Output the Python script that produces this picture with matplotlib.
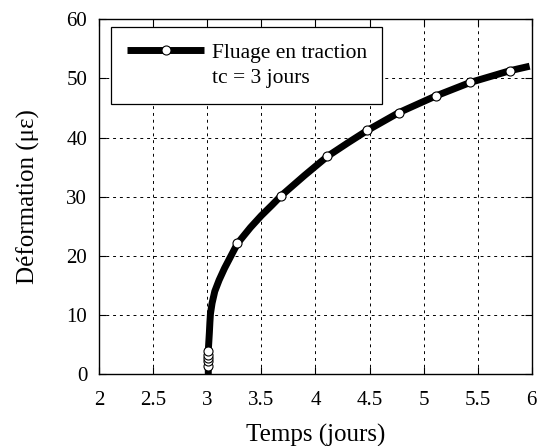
import matplotlib
matplotlib.use("Agg")
import matplotlib.pyplot as plt
from matplotlib.lines import Line2D

plt.rcParams['font.family'] = ['Liberation Serif', 'DejaVu Serif']

# Curve
curve_x = [3.01, 3.01, 3.02, 3.025, 3.03, 3.045, 3.07, 3.11, 3.16, 3.22, 3.28, 3.40, 3.50,
           3.60, 3.68, 3.90, 4.11, 4.30, 4.48, 4.77, 5.11, 5.43, 5.80, 5.98]
curve_y = [0.0, 4.0, 7.0, 8.8, 10.2, 12.0, 14.0, 15.9, 17.9, 20.0, 22.1, 24.8, 26.8,
           28.6, 30.1, 33.6, 36.8, 39.1, 41.2, 44.2, 47.0, 49.3, 51.3, 52.05]

# Measured points (markers)
marker_x = [3.01, 3.01, 3.01, 3.01, 3.01, 3.28, 3.68, 4.11, 4.48, 4.77, 5.11, 5.43, 5.80]
marker_y = [1.4, 2.2, 2.8, 3.3, 3.9, 22.1, 30.1, 36.8, 41.2, 44.2, 47.0, 49.3, 51.3]

legend_lines = ["Fluage en traction", "tc = 3 jours"]
x_ticks = [2, 2.5, 3, 3.5, 4, 4.5, 5, 5.5, 6]
x_ticklabels = ["2", "2.5", "3", "3.5", "4", "4.5", "5", "5.5", "6"]
y_ticks = [0, 10, 20, 30, 40, 50, 60]

fig = plt.figure(figsize=(5.41, 4.46), dpi=100)
ax = fig.add_axes([0.183, 0.161, 0.800, 0.796])

ax.plot(curve_x, curve_y, color='black', lw=5, solid_capstyle='butt',
        solid_joinstyle='round', zorder=3)
ax.plot(marker_x, marker_y, ls='none', marker='o', ms=6.5, mfc='white',
        mec='black', mew=0.8, zorder=4)

ax.set_xlim(2, 6)
ax.set_ylim(0, 60)
ax.set_xticks(x_ticks)
ax.set_xticklabels(x_ticklabels)
ax.set_yticks(y_ticks)
ax.tick_params(direction='in', length=5, width=0.8, top=True, right=True,
               labelsize=15)
ax.tick_params(axis='x', pad=12)
ax.tick_params(axis='y', pad=8.5)
ax.grid(True, color='black', ls=(0, (3, 4)), lw=0.7)
for s in ax.spines.values():
    s.set_linewidth(1.0)

ax.set_xlabel("Temps (jours)", fontsize=18, labelpad=10)
ax.set_ylabel("Déformation (με)", fontsize=18, labelpad=19)

handle = Line2D([], [], color='black', lw=5, marker='o', ms=6.5,
                mfc='white', mec='black', mew=0.8, solid_capstyle='butt')
blank = Line2D([], [], color='none', lw=0)
leg = ax.legend([handle, blank], legend_lines, loc='upper left', numpoints=1,
                fontsize=15.5, frameon=True, fancybox=False, handlelength=3.6,
                borderaxespad=0.37, handletextpad=0.35, borderpad=0.72,
                labelspacing=0.25, bbox_to_anchor=(0.01, 1.0))
leg.get_frame().set_edgecolor('black')
leg.get_frame().set_linewidth(0.9)
leg.get_frame().set_alpha(1)

fig.savefig("out.png", dpi=100)
